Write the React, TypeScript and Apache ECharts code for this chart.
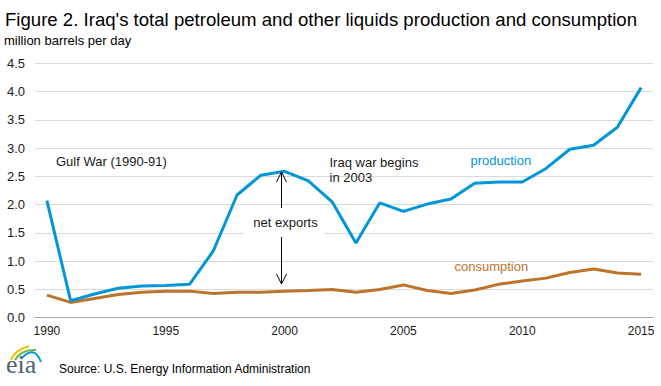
import React, { useEffect, useRef } from "react";
import * as echarts from "echarts";

const years = Array.from({ length: 26 }, (_, i) => String(1990 + i));
const production = [
  2.07, 0.3, 0.42, 0.52, 0.56, 0.57, 0.59, 1.18, 2.17, 2.52, 2.59, 2.42, 2.05,
  1.32, 2.03, 1.88, 2.01, 2.1, 2.38, 2.4, 2.4, 2.64, 2.98, 3.05, 3.37, 4.07,
];
const consumption = [
  0.4, 0.27, 0.34, 0.41, 0.45, 0.47, 0.47, 0.43, 0.45, 0.45, 0.47, 0.48, 0.5,
  0.45, 0.5, 0.58, 0.48, 0.43, 0.49, 0.59, 0.65, 0.7, 0.8, 0.86, 0.79, 0.77,
];
const yTicks = { min: 0, max: 4.5, interval: 0.5 };

const FONT = "'Liberation Sans', Arial, sans-serif";
const BLUE = "#0096d7";
const BROWN = "#bd732a";

export default function App() {
  const ref = useRef<HTMLDivElement>(null);
  useEffect(() => {
    document.body.style.margin = "0";
    const chart = echarts.init(ref.current!, null, { renderer: "svg" });
    const txt = (x: number, y: number, text: string, size: number, fill = "#1a1a1a", extra: any = {}) => ({
      type: "text",
      x,
      y,
      style: { text, fill, font: `${size}px ${FONT}`, textVerticalAlign: "middle", ...extra },
      z: 100,
    });
    const ax = 281.5;
    chart.setOption({
      animation: false,
      backgroundColor: "#ffffff",
      grid: { left: 35, right: 8, top: 63.3, bottom: 68.3, containLabel: false },
      xAxis: {
        type: "category",
        data: years,
        boundaryGap: true,
        axisLine: { lineStyle: { color: "#a6a6a6", width: 1 } },
        axisTick: { interval: 0, length: 5, lineStyle: { color: "#a6a6a6" } },
        axisLabel: { interval: 4, margin: 7, fontSize: 12, color: "#1a1a1a", fontFamily: FONT },
        splitLine: { show: false },
      },
      yAxis: {
        type: "value",
        min: yTicks.min,
        max: yTicks.max,
        interval: yTicks.interval,
        axisLine: { show: false },
        axisTick: { show: false },
        axisLabel: {
          margin: 10,
          fontSize: 13,
          color: "#1a1a1a",
          fontFamily: FONT,
          formatter: (v: number) => v.toFixed(1),
        },
        splitLine: { lineStyle: { color: "#d9d9d9", width: 1 } },
      },
      series: [
        {
          name: "production",
          type: "line",
          data: production,
          symbol: "none",
          lineStyle: { color: BLUE, width: 3 },
          z: 3,
        },
        {
          name: "consumption",
          type: "line",
          data: consumption,
          symbol: "none",
          lineStyle: { color: BROWN, width: 3 },
          z: 2,
        },
      ],
      graphic: [
        txt(5, 19, "Figure 2. Iraq's total petroleum and other liquids production and consumption", 18.6, "#000"),
        txt(4, 40, "million barrels per day", 13, "#000"),
        txt(56, 161, "Gulf War (1990-91)", 13),
        {
          type: "rect",
          shape: { x: 244, y: 208, width: 80, height: 29 },
          style: { fill: "#ffffff" },
          z: 90,
        },
        txt(285.5, 222.7, "net exports", 13, "#1a1a1a", { textAlign: "center" }),
        txt(329.5, 162.7, "Iraq war begins", 13),
        txt(329.5, 177.5, "in 2003", 13),
        txt(470.5, 160.7, "production", 13, BLUE),
        txt(454.5, 266.7, "consumption", 13, BROWN),
        { type: "line", shape: { x1: ax, y1: 172, x2: ax, y2: 208 }, style: { stroke: "#000", lineWidth: 1 }, z: 100 },
        { type: "polyline", shape: { points: [[ax - 5, 182], [ax, 172], [ax + 5, 182]] }, style: { stroke: "#000", lineWidth: 1, fill: null }, z: 100 },
        { type: "line", shape: { x1: ax, y1: 237, x2: ax, y2: 284 }, style: { stroke: "#000", lineWidth: 1 }, z: 100 },
        { type: "polyline", shape: { points: [[ax - 5, 274], [ax, 284], [ax + 5, 274]] }, style: { stroke: "#000", lineWidth: 1, fill: null }, z: 100 },
        // eia logo
        { type: "bezierCurve", shape: { x1: 11, y1: 360, cpx1: 15, cpy1: 350, x2: 29, y2: 346 }, style: { stroke: "#f2c300", lineWidth: 2, fill: null }, z: 100 },
        { type: "bezierCurve", shape: { x1: 15, y1: 360, cpx1: 21, cpy1: 349, x2: 36, y2: 350 }, style: { stroke: "#6cb33f", lineWidth: 2, fill: null }, z: 100 },
        { type: "bezierCurve", shape: { x1: 21, y1: 359, cpx1: 34, cpy1: 344, x2: 41, y2: 362 }, style: { stroke: "#0096d7", lineWidth: 2, fill: null }, z: 100 },
        {
          type: "text",
          x: 6,
          y: 377,
          style: { text: "eia", fill: "#4f6273", font: "26px 'Liberation Serif', 'DejaVu Serif', serif", textVerticalAlign: "bottom" },
          z: 100,
        },
        txt(59, 369, "Source: U.S. Energy Information Administration", 12, "#000"),
      ],
    });
    return () => chart.dispose();
  }, []);
  return <div ref={ref} style={{ width: 661, height: 386 }} />;
}
